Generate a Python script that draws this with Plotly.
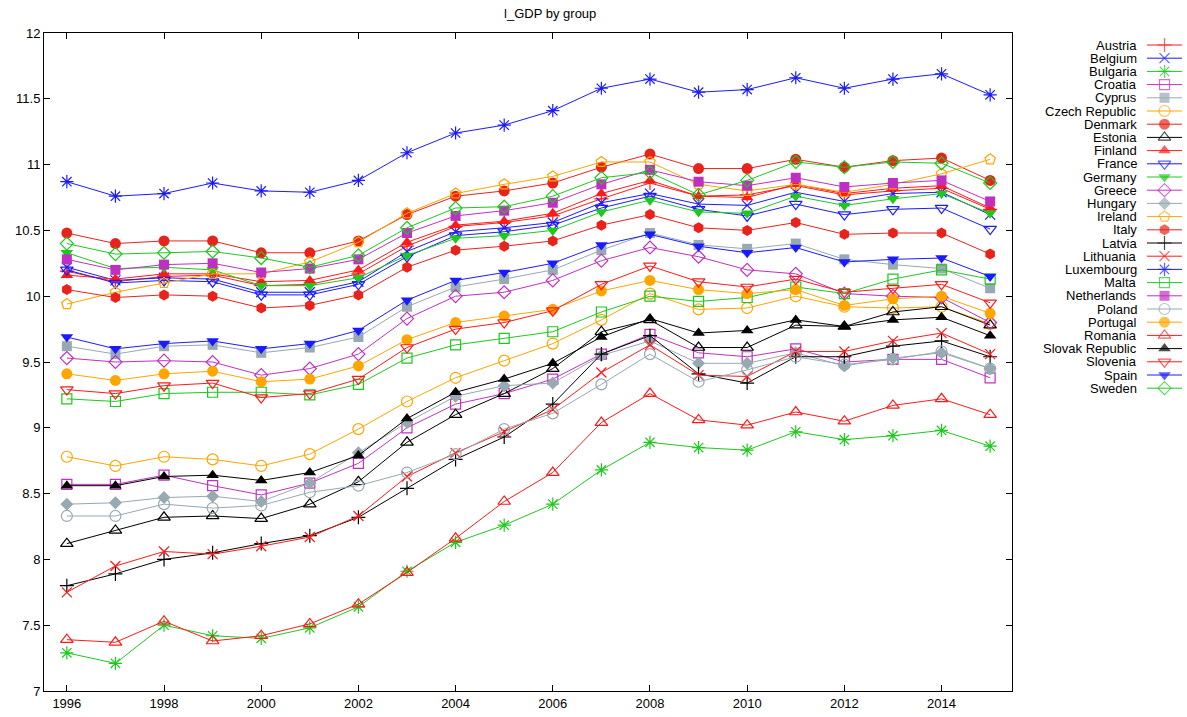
import plotly.graph_objects as go

years = list(range(1996, 2016))

countries = ["Austria", "Belgium", "Bulgaria", "Croatia", "Cyprus", "Czech Republic",
             "Denmark", "Estonia", "Finland", "France", "Germany", "Greece", "Hungary",
             "Ireland", "Italy", "Latvia", "Lithuania", "Luxembourg", "Malta",
             "Netherlands", "Poland", "Portugal", "Romania", "Slovak Republic",
             "Slovenia", "Spain", "Sweden"]

austria = [10.19, 10.11, 10.15, 10.16, 10.08, 10.09, 10.17, 10.38, 10.53, 10.56, 10.61, 10.74, 10.86, 10.76, 10.77, 10.84, 10.77, 10.80, 10.82, 10.66]
belgium = [10.22, 10.12, 10.14, 10.13, 10.03, 10.03, 10.11, 10.34, 10.49, 10.52, 10.56, 10.71, 10.78, 10.70, 10.69, 10.79, 10.72, 10.78, 10.79, 10.62]
bulgaria = [7.29, 7.21, 7.50, 7.42, 7.40, 7.48, 7.64, 7.91, 8.13, 8.26, 8.42, 8.68, 8.89, 8.85, 8.83, 8.97, 8.91, 8.94, 8.98, 8.86]
croatia = [8.57, 8.57, 8.64, 8.56, 8.49, 8.58, 8.73, 9.00, 9.18, 9.26, 9.37, 9.56, 9.71, 9.57, 9.54, 9.60, 9.50, 9.52, 9.52, 9.38]
cyprus = [9.62, 9.56, 9.62, 9.63, 9.57, 9.61, 9.69, 9.92, 10.07, 10.13, 10.20, 10.35, 10.48, 10.39, 10.36, 10.40, 10.28, 10.24, 10.21, 10.06]
czech = [8.78, 8.71, 8.78, 8.76, 8.71, 8.80, 8.99, 9.20, 9.38, 9.51, 9.64, 9.82, 10.02, 9.90, 9.91, 10.00, 9.92, 9.91, 9.92, 9.79]
denmark = [10.48, 10.40, 10.42, 10.42, 10.33, 10.33, 10.42, 10.62, 10.76, 10.80, 10.86, 10.98, 11.08, 10.97, 10.97, 11.04, 10.98, 11.03, 11.05, 10.88]
estonia = [8.12, 8.22, 8.32, 8.33, 8.31, 8.42, 8.59, 8.89, 9.10, 9.26, 9.45, 9.73, 9.82, 9.61, 9.61, 9.78, 9.77, 9.88, 9.92, 9.78]
finland = [10.16, 10.13, 10.17, 10.17, 10.11, 10.12, 10.20, 10.41, 10.54, 10.57, 10.63, 10.78, 10.88, 10.76, 10.75, 10.85, 10.78, 10.82, 10.84, 10.67]
france = [10.20, 10.10, 10.12, 10.11, 10.01, 10.01, 10.09, 10.30, 10.46, 10.49, 10.54, 10.67, 10.76, 10.66, 10.61, 10.70, 10.62, 10.66, 10.67, 10.51]
germany = [10.33, 10.21, 10.22, 10.20, 10.08, 10.08, 10.14, 10.31, 10.44, 10.46, 10.50, 10.64, 10.73, 10.64, 10.63, 10.76, 10.69, 10.74, 10.78, 10.63]
greece = [9.53, 9.50, 9.51, 9.50, 9.40, 9.45, 9.56, 9.83, 10.00, 10.03, 10.12, 10.27, 10.37, 10.30, 10.20, 10.17, 10.02, 10.00, 9.99, 9.80]
hungary = [8.42, 8.43, 8.47, 8.48, 8.44, 8.58, 8.81, 9.04, 9.24, 9.32, 9.34, 9.55, 9.66, 9.49, 9.49, 9.57, 9.47, 9.53, 9.57, 9.45]
ireland = [9.94, 10.03, 10.10, 10.17, 10.17, 10.26, 10.41, 10.63, 10.78, 10.85, 10.91, 11.02, 11.02, 10.85, 10.80, 10.85, 10.79, 10.85, 10.93, 11.04]
italy = [10.05, 9.99, 10.01, 10.00, 9.91, 9.93, 10.01, 10.22, 10.35, 10.38, 10.42, 10.54, 10.62, 10.52, 10.50, 10.56, 10.47, 10.48, 10.48, 10.32]
latvia = [7.80, 7.89, 8.00, 8.05, 8.12, 8.18, 8.32, 8.54, 8.76, 8.93, 9.18, 9.56, 9.70, 9.41, 9.34, 9.54, 9.54, 9.62, 9.66, 9.54]
lithuania = [7.75, 7.95, 8.06, 8.04, 8.10, 8.17, 8.33, 8.63, 8.81, 8.97, 9.14, 9.42, 9.63, 9.40, 9.39, 9.58, 9.58, 9.66, 9.72, 9.56]
luxembourg = [10.87, 10.76, 10.78, 10.86, 10.80, 10.79, 10.88, 11.09, 11.24, 11.30, 11.41, 11.58, 11.65, 11.55, 11.57, 11.66, 11.58, 11.65, 11.69, 11.53]
malta = [9.22, 9.20, 9.26, 9.27, 9.27, 9.25, 9.33, 9.53, 9.63, 9.68, 9.73, 9.88, 10.00, 9.96, 9.99, 10.07, 10.02, 10.13, 10.20, 10.13]
netherlands = [10.28, 10.20, 10.24, 10.25, 10.18, 10.21, 10.28, 10.48, 10.61, 10.65, 10.71, 10.85, 10.96, 10.87, 10.84, 10.90, 10.83, 10.86, 10.88, 10.72]
poland = [8.33, 8.33, 8.42, 8.39, 8.41, 8.51, 8.56, 8.66, 8.80, 8.99, 9.11, 9.33, 9.56, 9.35, 9.44, 9.54, 9.48, 9.52, 9.58, 9.45]
portugal = [9.41, 9.36, 9.41, 9.43, 9.35, 9.37, 9.47, 9.67, 9.80, 9.85, 9.90, 10.04, 10.12, 10.05, 10.02, 10.05, 9.93, 9.98, 10.00, 9.87]
romania = [7.39, 7.37, 7.53, 7.38, 7.42, 7.51, 7.66, 7.90, 8.16, 8.44, 8.66, 9.04, 9.26, 9.06, 9.02, 9.12, 9.05, 9.17, 9.22, 9.10]
slovakia = [8.56, 8.56, 8.63, 8.64, 8.60, 8.66, 8.79, 9.07, 9.27, 9.37, 9.49, 9.69, 9.83, 9.72, 9.74, 9.82, 9.77, 9.82, 9.84, 9.70]
slovenia = [9.29, 9.26, 9.32, 9.34, 9.23, 9.26, 9.37, 9.61, 9.75, 9.80, 9.89, 10.09, 10.23, 10.11, 10.07, 10.13, 10.03, 10.06, 10.09, 9.95]
spain = [9.69, 9.60, 9.64, 9.66, 9.60, 9.64, 9.74, 9.97, 10.12, 10.18, 10.25, 10.39, 10.47, 10.38, 10.33, 10.37, 10.26, 10.28, 10.29, 10.15]
sweden = [10.40, 10.32, 10.33, 10.34, 10.29, 10.22, 10.31, 10.52, 10.67, 10.68, 10.76, 10.90, 10.94, 10.77, 10.88, 11.02, 10.98, 11.02, 11.01, 10.86]

series = [austria, belgium, bulgaria, croatia, cyprus, czech, denmark, estonia, finland,
          france, germany, greece, hungary, ireland, italy, latvia, lithuania, luxembourg,
          malta, netherlands, poland, portugal, romania, slovakia, slovenia, spain, sweden]

RED = "#ff1a1a"
DRED = "#e8231c"
BLUE = "#1a1aff"
GREEN = "#1ec81e"
PURPLE = "#c030c0"
GRAY = "#97a9b1"
ORANGE = "#ffa500"
BLACK = "#000000"

styles = [
    (RED, "cross-thin-open", 10),
    (BLUE, "x-thin-open", 10),
    (GREEN, "asterisk-open", 11),
    (PURPLE, "square-open", 10),
    (GRAY, "square", 10),
    (ORANGE, "circle-open", 11),
    (DRED, "circle", 11),
    (BLACK, "triangle-up-open", 11),
    (RED, "triangle-up", 11),
    (BLUE, "triangle-down-open", 11),
    (GREEN, "triangle-down", 11),
    (PURPLE, "diamond-open", 10),
    (GRAY, "diamond", 10),
    (ORANGE, "pentagon-open", 11),
    (DRED, "hexagon", 11),
    (BLACK, "cross-thin-open", 10),
    (RED, "x-thin-open", 10),
    (BLUE, "asterisk-open", 11),
    (GREEN, "square-open", 10),
    (PURPLE, "square", 10),
    (GRAY, "circle-open", 11),
    (ORANGE, "circle", 11),
    (RED, "triangle-up-open", 11),
    (BLACK, "triangle-up", 11),
    (RED, "triangle-down-open", 11),
    (BLUE, "triangle-down", 11),
    (GREEN, "diamond-open", 10),
]

FONT = "Liberation Sans, Arial, sans-serif"

fig = go.Figure()

def marker_dict(color, symbol, size):
    is_open = symbol.endswith("-open")
    return dict(symbol=symbol, size=size, color=color,
                line=dict(color=color, width=1.2 if is_open else 0))

for name, vals, (color, symbol, size) in zip(countries, series, styles):
    fig.add_trace(go.Scatter(
        x=years, y=vals, name=name, mode="lines+markers",
        line=dict(color=color, width=1),
        marker=marker_dict(color, symbol, size),
        showlegend=False, xaxis="x", yaxis="y",
    ))

# gnuplot-style key: text on the left, sample on the right
annotations = []
for i, (name, (color, symbol, size)) in enumerate(zip(countries, styles)):
    fig.add_trace(go.Scatter(
        x=[0, 0.5, 1], y=[i, i, i], mode="lines+markers",
        line=dict(color=color, width=1),
        marker=dict(symbol=symbol, size=[0, size, 0], color=color,
                    line=dict(color=color, width=1.2 if symbol.endswith("-open") else 0)),
        showlegend=False, hoverinfo="skip", xaxis="x2", yaxis="y2",
    ))
    annotations.append(dict(
        x=0, y=i, xref="x2", yref="y2", text=name, showarrow=False,
        xanchor="right", yanchor="middle", xshift=-8,
        font=dict(family=FONT, size=13, color="black"),
    ))

L, R, T, B = 44, 5, 33, 26
W, H = 1187, 717
pw = W - L - R
main_right = (1012 - L) / pw
leg_left = (1147 - L) / pw
ph = H - T - B
row0 = 45
rowstep = 13.2
top_idx = (T - row0) / rowstep
bot_idx = (T + ph - row0) / rowstep

fig.update_layout(
    width=W, height=H,
    margin=dict(l=L, r=R, t=T, b=B, pad=0),
    paper_bgcolor="white", plot_bgcolor="white",
    font=dict(family=FONT, size=13, color="black"),
    title=dict(text="l_GDP by group", x=(44 + 1012) / 2 / W, xref="paper",
               xanchor="center", y=1 - 13 / H, yanchor="middle",
               font=dict(family=FONT, size=13, color="black")),
    xaxis=dict(domain=[0, main_right], range=[1995.53, 2015.45], tick0=1996, dtick=2,
               ticks="inside", ticklen=6, tickcolor="black", showline=True,
               linecolor="black", linewidth=1, mirror="ticks", showgrid=False,
               zeroline=False, tickfont=dict(family=FONT, size=13)),
    yaxis=dict(range=[7, 12], dtick=0.5, ticks="inside", ticklen=6, tickcolor="black",
               showline=True, linecolor="black", linewidth=1, mirror="ticks",
               showgrid=False, zeroline=False, tickfont=dict(family=FONT, size=13)),
    xaxis2=dict(domain=[leg_left, 1.0], range=[0, 1], visible=False, anchor="y2"),
    yaxis2=dict(domain=[0, 1], range=[bot_idx, top_idx], visible=False, anchor="x2"),
    annotations=annotations,
    showlegend=False,
)

fig.write_html("out.html")
